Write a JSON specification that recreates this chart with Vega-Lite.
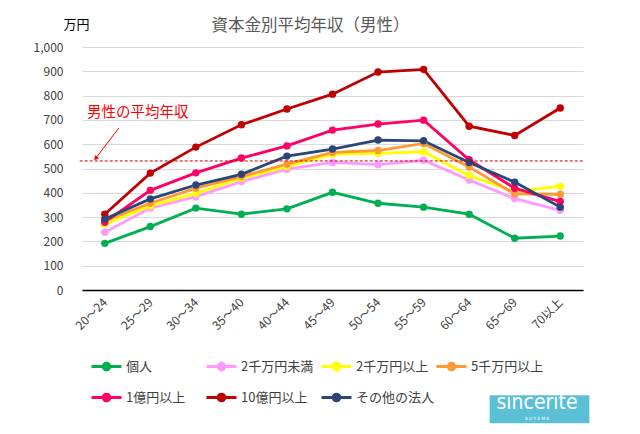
{
  "$schema": "https://vega.github.io/schema/vega-lite/v6.json",
  "width": 501,
  "height": 243,
  "autosize": "none",
  "padding": {"left": 82, "top": 47, "right": 57, "bottom": 144},
  "background": "white",
  "config": {"font": "Noto Sans CJK JP", "view": {"stroke": null}},
  "title": {"text": "資本金別平均年収（男性）", "fontSize": 16.5, "fontWeight": "normal", "color": "#595959", "anchor": "middle", "frame": "group", "dx": -22, "dy": 20},
  "datasets": {
    "main": [
      {"age": "20～24", "series": "個人", "value": 192},
      {"age": "25～29", "series": "個人", "value": 261},
      {"age": "30～34", "series": "個人", "value": 337},
      {"age": "35～40", "series": "個人", "value": 312},
      {"age": "40～44", "series": "個人", "value": 334},
      {"age": "45～49", "series": "個人", "value": 402},
      {"age": "50～54", "series": "個人", "value": 357},
      {"age": "55～59", "series": "個人", "value": 341},
      {"age": "60～64", "series": "個人", "value": 312},
      {"age": "65～69", "series": "個人", "value": 213},
      {"age": "70以上", "series": "個人", "value": 222},
      {"age": "20～24", "series": "2千万円未満", "value": 238},
      {"age": "25～29", "series": "2千万円未満", "value": 337},
      {"age": "30～34", "series": "2千万円未満", "value": 384},
      {"age": "35～40", "series": "2千万円未満", "value": 446},
      {"age": "40～44", "series": "2千万円未満", "value": 497},
      {"age": "45～49", "series": "2千万円未満", "value": 525},
      {"age": "50～54", "series": "2千万円未満", "value": 516},
      {"age": "55～59", "series": "2千万円未満", "value": 534},
      {"age": "60～64", "series": "2千万円未満", "value": 453},
      {"age": "65～69", "series": "2千万円未満", "value": 376},
      {"age": "70以上", "series": "2千万円未満", "value": 328},
      {"age": "20～24", "series": "2千万円以上", "value": 271},
      {"age": "25～29", "series": "2千万円以上", "value": 346},
      {"age": "30～34", "series": "2千万円以上", "value": 398},
      {"age": "35～40", "series": "2千万円以上", "value": 460},
      {"age": "40～44", "series": "2千万円以上", "value": 508},
      {"age": "45～49", "series": "2千万円以上", "value": 559},
      {"age": "50～54", "series": "2千万円以上", "value": 562},
      {"age": "55～59", "series": "2千万円以上", "value": 569},
      {"age": "60～64", "series": "2千万円以上", "value": 471},
      {"age": "65～69", "series": "2千万円以上", "value": 405},
      {"age": "70以上", "series": "2千万円以上", "value": 427},
      {"age": "20～24", "series": "5千万円以上", "value": 285},
      {"age": "25～29", "series": "5千万円以上", "value": 357},
      {"age": "30～34", "series": "5千万円以上", "value": 419},
      {"age": "35～40", "series": "5千万円以上", "value": 467},
      {"age": "40～44", "series": "5千万円以上", "value": 518},
      {"age": "45～49", "series": "5千万円以上", "value": 566},
      {"age": "50～54", "series": "5千万円以上", "value": 574},
      {"age": "55～59", "series": "5千万円以上", "value": 603},
      {"age": "60～64", "series": "5千万円以上", "value": 506},
      {"age": "65～69", "series": "5千万円以上", "value": 396},
      {"age": "70以上", "series": "5千万円以上", "value": 394},
      {"age": "20～24", "series": "1億円以上", "value": 279},
      {"age": "25～29", "series": "1億円以上", "value": 410},
      {"age": "30～34", "series": "1億円以上", "value": 482},
      {"age": "35～40", "series": "1億円以上", "value": 543},
      {"age": "40～44", "series": "1億円以上", "value": 593},
      {"age": "45～49", "series": "1億円以上", "value": 658},
      {"age": "50～54", "series": "1億円以上", "value": 683},
      {"age": "55～59", "series": "1億円以上", "value": 699},
      {"age": "60～64", "series": "1億円以上", "value": 536},
      {"age": "65～69", "series": "1億円以上", "value": 419},
      {"age": "70以上", "series": "1億円以上", "value": 364},
      {"age": "20～24", "series": "10億円以上", "value": 312},
      {"age": "25～29", "series": "10億円以上", "value": 481},
      {"age": "30～34", "series": "10億円以上", "value": 588},
      {"age": "35～40", "series": "10億円以上", "value": 680},
      {"age": "40～44", "series": "10億円以上", "value": 745},
      {"age": "45～49", "series": "10億円以上", "value": 806},
      {"age": "50～54", "series": "10億円以上", "value": 897},
      {"age": "55～59", "series": "10億円以上", "value": 908},
      {"age": "60～64", "series": "10億円以上", "value": 674},
      {"age": "65～69", "series": "10億円以上", "value": 636},
      {"age": "70以上", "series": "10億円以上", "value": 749},
      {"age": "20～24", "series": "その他の法人", "value": 292},
      {"age": "25～29", "series": "その他の法人", "value": 375},
      {"age": "30～34", "series": "その他の法人", "value": 432},
      {"age": "35～40", "series": "その他の法人", "value": 476},
      {"age": "40～44", "series": "その他の法人", "value": 551},
      {"age": "45～49", "series": "その他の法人", "value": 580},
      {"age": "50～54", "series": "その他の法人", "value": 617},
      {"age": "55～59", "series": "その他の法人", "value": 614},
      {"age": "60～64", "series": "その他の法人", "value": 525},
      {"age": "65～69", "series": "その他の法人", "value": 444},
      {"age": "70以上", "series": "その他の法人", "value": 341}
    ],
    "avg": [{"x": -0.05, "x2": 11, "y": 531}],
    "arrow": [{"x": 0.81, "y": 667, "x2": 0.29, "y2": 539}],
    "head": [{"x": 0.3, "y": 541}],
    "note": [{"x": 0.11, "y": 729, "label": "男性の平均年収"}],
    "logo": [{"x": 8.95, "x2": 11.14, "y": -433, "y2": -548}],
    "logotext": [{"x": 9.99, "y": -463, "label": "sincerité", "size": 21}, {"x": 9.99, "y": -531, "label": "A O Y A M A", "size": 4.5}]
  },
  "layer": [
    {
      "data": {"name": "main"},
      "mark": {"type": "line", "strokeWidth": 2.8, "point": {"filled": true, "size": 55, "opacity": 1}},
      "encoding": {
        "x": {
          "field": "age", "type": "ordinal",
          "sort": ["20～24","25～29","30～34","35～40","40～44","45～49","50～54","55～59","60～64","65～69","70以上"],
          "scale": {"type": "point", "padding": 0.5},
          "axis": {"title": null, "labelAngle": -45, "labelAlign": "right", "labelBaseline": "middle", "labelPadding": 10, "labelFontSize": 12, "labelColor": "#404040", "ticks": false, "domainColor": "#000000", "domainWidth": 1.3, "grid": false, "zindex": 1}
        },
        "y": {
          "field": "value", "type": "quantitative",
          "scale": {"domain": [0, 1000], "nice": false},
          "axis": {"title": "万円", "titleAngle": 0, "titleX": -6, "titleY": -23, "titleAlign": "center", "titleBaseline": "middle", "titleFontSize": 13, "titleFontWeight": "normal", "titleColor": "#000000",
                   "values": [0,100,200,300,400,500,600,700,800,900,1000], "format": ",d", "labelFontSize": 12, "labelColor": "#404040", "labelPadding": 19, "ticks": false, "domain": false, "gridColor": "#d9d9d9", "gridWidth": 1}
        },
        "color": {
          "field": "series", "type": "nominal",
          "scale": {
            "domain": ["個人","2千万円未満","2千万円以上","5千万円以上","1億円以上","10億円以上","その他の法人"],
            "range": ["#00b050","#ff99ff","#ffff00","#ff9933","#ff0066","#c00000","#2a4677"]
          },
          "legend": {
            "title": null, "orient": "none", "legendX": 8, "legendY": 303, "direction": "horizontal", "columns": 4,
            "gridAlign": "all", "columnPadding": -11, "rowPadding": 5, "padding": 0,
            "symbolType": "M-1,0L1,0M-0.22,0A0.22,0.22,0,1,1,0.22,0A0.22,0.22,0,1,1,-0.22,0Z",
            "symbolSize": 900, "symbolStrokeWidth": 3, "labelOffset": 3,
            "labelFontSize": 13, "labelColor": "#404040", "labelLimit": 200,
            "encode": {"symbols": {"update": {"fill": {"scale": "color", "field": "value"}, "stroke": {"scale": "color", "field": "value"}, "strokeWidth": {"value": 3}, "opacity": {"value": 1}}}}
          }
        }
      }
    },
    {
      "layer": [
        {
          "data": {"name": "avg"},
          "mark": {"type": "rule", "color": "#c00000", "strokeWidth": 1, "strokeDash": [3, 2]},
          "encoding": {
            "x": {"field": "x", "type": "quantitative", "scale": {"domain": [0, 11], "nice": false, "zero": false}, "axis": null},
            "x2": {"field": "x2"},
            "y": {"field": "y", "type": "quantitative", "scale": {"domain": [0, 1000], "nice": false}, "axis": null}
          }
        },
        {
          "data": {"name": "arrow"},
          "mark": {"type": "rule", "color": "#ff0000", "strokeWidth": 1},
          "encoding": {
            "x": {"field": "x", "type": "quantitative"},
            "x2": {"field": "x2"},
            "y": {"field": "y", "type": "quantitative"},
            "y2": {"field": "y2"}
          }
        },
        {
          "data": {"name": "head"},
          "mark": {"type": "point", "shape": "triangle-up", "filled": true, "color": "#ff0000", "size": 28, "angle": 217, "opacity": 1},
          "encoding": {
            "x": {"field": "x", "type": "quantitative"},
            "y": {"field": "y", "type": "quantitative"}
          }
        },
        {
          "data": {"name": "note"},
          "mark": {"type": "text", "color": "#ff0000", "fontSize": 14.5, "align": "left", "baseline": "middle"},
          "encoding": {
            "x": {"field": "x", "type": "quantitative"},
            "y": {"field": "y", "type": "quantitative"},
            "text": {"field": "label"}
          }
        },
        {
          "data": {"name": "logo"},
          "mark": {"type": "rect", "color": "#5bc0d6"},
          "encoding": {
            "x": {"field": "x", "type": "quantitative"},
            "x2": {"field": "x2"},
            "y": {"field": "y", "type": "quantitative"},
            "y2": {"field": "y2"}
          }
        },
        {
          "data": {"name": "logotext"},
          "mark": {"type": "text", "color": "#ffffff", "align": "center", "baseline": "middle", "font": "Liberation Sans Narrow, DejaVu Sans Condensed, DejaVu Sans"},
          "encoding": {
            "x": {"field": "x", "type": "quantitative"},
            "y": {"field": "y", "type": "quantitative"},
            "text": {"field": "label"},
            "size": {"field": "size", "type": "quantitative", "scale": null, "legend": null}
          }
        }
      ]
    }
  ],
  "resolve": {"scale": {"x": "independent", "y": "independent"}}
}
